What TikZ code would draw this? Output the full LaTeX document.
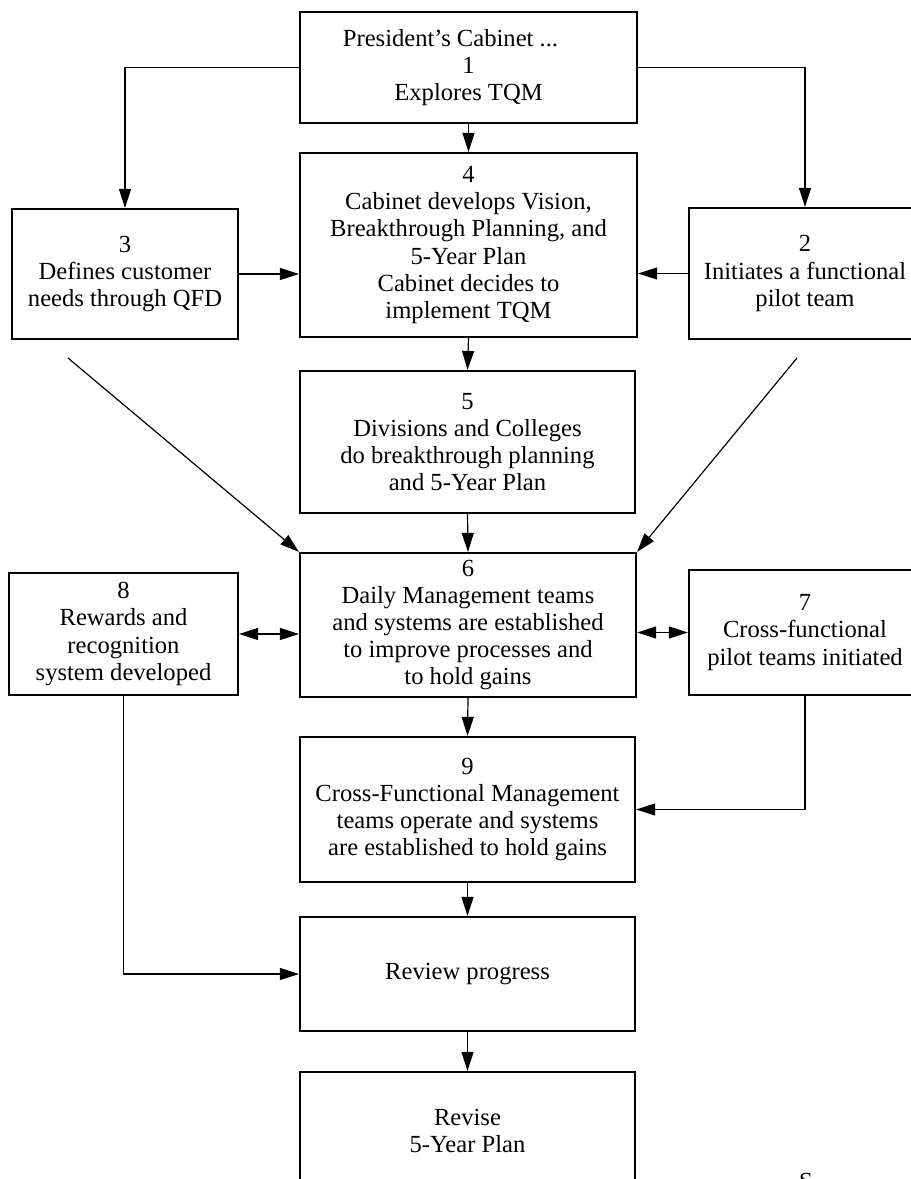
\documentclass[tikz,border=0pt]{standalone}
\usepackage{fontspec}
\setmainfont{Liberation Serif}
\usetikzlibrary{arrows.meta}
\begin{document}
\begin{tikzpicture}[x=0.5pt,y=-0.5pt,
  box/.style={draw, line width=1.1pt, align=center, inner sep=0pt,
              font=\fontsize{12.3}{13.6}\selectfont},
  head/.style={Triangle[length=9.5pt,width=6pt]},
  link/.style={line width=0.6pt, -{Triangle[length=9.5pt,width=6pt]}},
  twoway/.style={line width=0.6pt,
                 {Triangle[length=9.5pt,width=6pt]}-{Triangle[length=9.5pt,width=6pt]}}]
\useasboundingbox (0,0) rectangle (911,1179);

% central column
\node[box, minimum width=168.5pt, minimum height=55.5pt] (b1) at (468.5,67.5)
  {President's Cabinet ...\hspace*{18pt}\\1\\Explores TQM};
\node[box, minimum width=168.5pt, minimum height=92pt] (b4) at (468.5,245)
  {4\\Cabinet develops Vision,\\Breakthrough Planning, and\\5-Year Plan\hspace*{11pt}\\Cabinet decides to\\implement TQM};
\node[box, minimum width=167.5pt, minimum height=71pt] (b5) at (467.5,442)
  {5\\Divisions and Colleges\\do breakthrough planning\\and 5-Year Plan};
\node[box, minimum width=168pt, minimum height=72pt] (b6) at (468,625)
  {6\\Daily Management teams\\and systems are established\\to improve processes and\\to hold gains};
\node[box, minimum width=167.5pt, minimum height=72.5pt] (b9) at (467.5,809.5)
  {9\\Cross-Functional Management\\teams operate and systems\\are established to hold gains};
\node[box, minimum width=167.5pt, minimum height=57pt] (rev) at (467.5,974)
  {Review progress};
\node[box, minimum width=167.5pt, minimum height=59pt] (rvs) at (467.5,1131)
  {Revise\\5-Year Plan};

% side boxes
\node[box, minimum width=113pt, minimum height=65pt] (b3) at (125,274)
  {3\\Defines customer\\needs through QFD};
\node[box, minimum width=116pt, minimum height=65.5pt] (b2) at (805,273.5)
  {2\\Initiates a functional\\pilot team};
\node[box, minimum width=114.5pt, minimum height=61pt] (b8) at (123.5,634)
  {8\\Rewards and\\recognition\\system developed};
\node[box, minimum width=116pt, minimum height=62.5pt] (b7) at (805,632.5)
  {7\\Cross-functional\\pilot teams initiated};

% source line at the foot
\node[anchor=base, inner sep=0pt, font=\fontsize{12.3}{13.6}\selectfont] (src) at (806,1189) {S};

% connectors
\draw[link] (b1.west) -| (b3.north);
\draw[link] (b1.east) -| (b2.north);
\draw[link] (b1.south) -- (b4.north);
\draw[link] (b3.east) -- (b3.east -| b4.west);
\draw[link] (b2.west) -- (b2.west -| b4.east);
\draw[link] (b4.south) -- (b5.north);

\coordinate (d3) at (68,358);
\coordinate (d2) at (797,358);
\draw[link] (d3) -- (b6.north west);
\draw[link] (d2) -- (b6.north east);

\draw[link] (b5.south) -- (b6.north);
\draw[twoway] (b8.east) -- (b8.east -| b6.west);
\draw[twoway] (b6.east |- b7.west) -- (b7.west);
\draw[link] (b6.south) -- (b9.north);
\draw[link] (b7.south) |- (b9.east);
\draw[link] (b8.south) |- (rev.west);
\draw[link] (b9.south) -- (rev.north);
\draw[link] (rev.south) -- (rvs.north);
\end{tikzpicture}
\end{document}
